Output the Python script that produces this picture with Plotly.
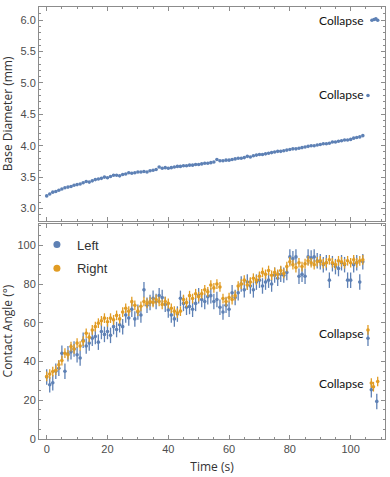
import plotly.graph_objects as go
from plotly.subplots import make_subplots

# ─── Colours (Mathematica default palette) ───
BLUE = "#5E81B5"
ORANGE = "#E19C24"
FRAME = "#8c8c8c"
TICKFONT = dict(family="Liberation Sans, Arial, sans-serif", size=11, color="#4d4d4d")

# ─── Data ───
time_s = list(range(0, 105))

base_diameter = [
    3.20, 3.23, 3.26, 3.27, 3.29, 3.31, 3.33, 3.34, 3.35, 3.37,
    3.38, 3.39, 3.41, 3.43, 3.42, 3.44, 3.46, 3.47, 3.48, 3.50,
    3.49, 3.51, 3.53, 3.53, 3.52, 3.54, 3.55, 3.57, 3.56, 3.57,
    3.58, 3.58, 3.59, 3.58, 3.60, 3.61, 3.62, 3.66, 3.64, 3.65,
    3.64, 3.65, 3.66, 3.67, 3.67, 3.68, 3.68, 3.69, 3.69, 3.70,
    3.70, 3.71, 3.72, 3.72, 3.73, 3.74, 3.78, 3.76, 3.76, 3.77,
    3.77, 3.78, 3.79, 3.80, 3.80, 3.81, 3.83, 3.82, 3.84, 3.85,
    3.86, 3.86, 3.87, 3.88, 3.89, 3.90, 3.91, 3.91, 3.92, 3.93,
    3.94, 3.95, 3.95, 3.96, 3.97, 3.98, 3.99, 4.00, 4.00, 4.01,
    4.02, 4.03, 4.03, 4.04, 4.06, 4.06, 4.07, 4.08, 4.09, 4.09,
    4.10, 4.12, 4.13, 4.14, 4.16,
]

angle_right = [
    32.3, 33.5, 34.8, 35.5, 38.3, 40.5, 44.3, 43.5, 47.7, 46.5,
    49.5, 48.0, 50.5, 54.6, 52.5, 56.3, 58.0, 59.8, 61.0, 62.4,
    60.5, 62.4, 61.5, 63.8, 62.0, 65.5, 67.5, 66.0, 70.9, 69.0,
    66.0, 68.5, 71.0, 70.0, 71.0, 70.5, 72.0, 71.0, 69.5, 71.0,
    70.0, 67.5, 66.0, 65.0, 66.0, 72.0, 70.5, 74.0, 72.5, 75.0,
    73.5, 75.0, 77.0, 76.0, 79.5, 78.0, 80.0, 78.5, 72.5, 71.0,
    73.0, 72.0, 74.0, 79.0, 80.0, 82.0, 79.5, 81.0, 83.0, 82.0,
    84.0, 86.0, 85.0, 87.0, 84.5, 86.0, 85.0, 87.0, 85.5, 89.0,
    91.5, 90.0, 88.5, 91.0, 89.0, 90.5, 92.0, 91.0, 90.0, 91.5,
    92.0, 90.5, 91.0, 92.5, 91.0, 90.0, 92.0, 91.5, 90.5, 92.0,
    91.0, 92.5, 91.0, 92.0, 92.5,
]

angle_left = [
    32.0, 28.0, 29.0, 35.0, 36.5, 44.3, 35.0, 44.0, 45.0, 46.5,
    43.5, 41.8, 51.0, 48.0, 49.5, 52.0, 52.9, 50.0, 55.5, 54.0,
    55.5, 53.5, 58.0, 56.5, 59.0, 58.0, 64.0, 62.5, 67.0, 62.0,
    65.5, 64.0, 77.0, 69.0, 70.5, 72.6, 71.0, 74.0, 73.0, 69.5,
    66.6, 64.0, 62.0, 64.5, 72.6, 70.0, 68.0, 68.4, 67.0, 70.0,
    74.0, 72.0, 71.0, 73.5, 74.0, 71.0, 72.0, 68.0, 65.6, 69.0,
    67.0, 75.5, 73.0, 75.5, 80.0, 77.0, 81.0, 79.0, 77.0, 81.0,
    82.0, 79.0, 81.0, 82.0, 80.0, 84.6, 83.0, 85.0, 84.6, 86.0,
    94.0, 93.0, 94.0, 84.0, 85.0, 84.0, 94.0, 93.5, 94.0, 92.0,
    91.5, 90.0, 91.0, 82.0, 90.5, 89.0, 88.0, 91.0, 90.0, 82.0,
    82.0, 90.0, 91.0, 81.0, 91.5,
]

err_right = 2.5
err_left = 4.0

# collapse events
collapse1_t = [105.7]
collapse1_diam = [4.80]
collapse1_right = [56.3]
collapse1_left = [52.0]

collapse2_t_diam = [107.0, 107.7, 108.3, 108.9]
collapse2_diam = [6.00, 6.01, 6.02, 6.00]
collapse2_t_right = [106.8, 107.5, 108.9]
collapse2_right = [28.9, 27.0, 29.7]
collapse2_t_left = [106.8, 108.6]
collapse2_left = [25.4, 19.4]

# ─── Figure ───
fig = make_subplots(rows=2, cols=1, shared_xaxes=True, vertical_spacing=0.007)

marker_sty = dict(size=3.6)

# top panel: base diameter
fig.add_trace(go.Scatter(
    x=time_s + collapse1_t + collapse2_t_diam,
    y=base_diameter + collapse1_diam + collapse2_diam,
    mode="markers", marker=dict(color=BLUE, **marker_sty), showlegend=False,
), row=1, col=1)

# bottom panel: contact angles
t_left = time_s + collapse1_t + collapse2_t_left
v_left = angle_left + collapse1_left + collapse2_left
t_right = time_s + collapse1_t + collapse2_t_right
v_right = angle_right + collapse1_right + collapse2_right

fig.add_trace(go.Scatter(
    x=t_left, y=v_left, mode="markers",
    marker=dict(color=BLUE, **marker_sty),
    error_y=dict(type="constant", value=err_left, color=BLUE, thickness=1.3, width=0),
    showlegend=False,
), row=2, col=1)
fig.add_trace(go.Scatter(
    x=t_right, y=v_right, mode="markers",
    marker=dict(color=ORANGE, **marker_sty),
    error_y=dict(type="constant", value=err_right, color=ORANGE, thickness=1.3, width=0),
    showlegend=False,
), row=2, col=1)

# legend entries
for name, c in [("Left", BLUE), ("Right", ORANGE)]:
    fig.add_trace(go.Scatter(
        x=[None], y=[None], mode="markers", name=name, legendgroup=name,
        marker=dict(color=c, size=7),
    ), row=2, col=1)

# ── Collapse labels ──
lbl_font = dict(family="Lato, Carlito, sans-serif", size=12, color="#111")
for yref, yv in [("y", 6.0), ("y", 4.81), ("y2", 54.3), ("y2", 28.5)]:
    fig.add_annotation(x=105.0, y=yv, xref="x" if yref == "y" else "x2", yref=yref,
                       text="Collapse", showarrow=False, xanchor="right",
                       font=lbl_font)

# ── Axis titles ──
title_font = dict(family="Open Sans, sans-serif", size=12, color="#333")
fig.add_annotation(x=0, y=0.752, xref="paper", yref="paper", xshift=-32,
                   xanchor="center", yanchor="middle",
                   text="Base Diameter (mm)", textangle=-90, showarrow=False,
                   font=title_font)
fig.add_annotation(x=0, y=0.249, xref="paper", yref="paper", xshift=-32,
                   xanchor="center", yanchor="middle",
                   text="Contact Angle (°)", textangle=-90, showarrow=False,
                   font=title_font)

axis_common = dict(
    showline=True, linecolor=FRAME, linewidth=1, mirror="allticks",
    ticks="inside", ticklen=4, tickcolor=FRAME, tickwidth=1,
    showgrid=False, zeroline=False, tickfont=TICKFONT,
)
x_common = dict(axis_common, range=[-2.53, 111.3], tick0=0, dtick=20,
                minor=dict(ticks="inside", dtick=5, ticklen=2, tickcolor=FRAME))

fig.update_xaxes(**x_common, showticklabels=False, row=1, col=1)
fig.update_xaxes(**x_common, row=2, col=1,
                 title=dict(text="Time (s)", font=title_font, standoff=8))
fig.update_yaxes(**axis_common, range=[2.80, 6.21], tick0=3.0, dtick=0.5,
                 tickformat=".1f",
                 minor=dict(ticks="inside", dtick=0.1, ticklen=2, tickcolor=FRAME),
                 row=1, col=1)
fig.update_yaxes(**axis_common, range=[0, 111], tick0=0, dtick=20,
                 minor=dict(ticks="inside", dtick=5, ticklen=2, tickcolor=FRAME),
                 row=2, col=1)

fig.update_layout(
    width=390, height=477,
    margin=dict(l=39, r=5, t=7, b=38),
    paper_bgcolor="white", plot_bgcolor="white",
    showlegend=True,
    legend=dict(x=-0.006, y=0.485, xanchor="left", yanchor="top",
                bgcolor="rgba(0,0,0,0)", tracegroupgap=4,
                font=dict(family="Liberation Sans, Arial, sans-serif", size=13, color="#333")),
)
fig.update_layout(yaxis_domain=[0.5046, 1.0], yaxis2_domain=[0.0, 0.4977])

# drop the browser's default body margin so the figure sits at the page corner
fig.write_html("out.html", config={"displayModeBar": False},
               post_script="document.body.style.margin='0';")
